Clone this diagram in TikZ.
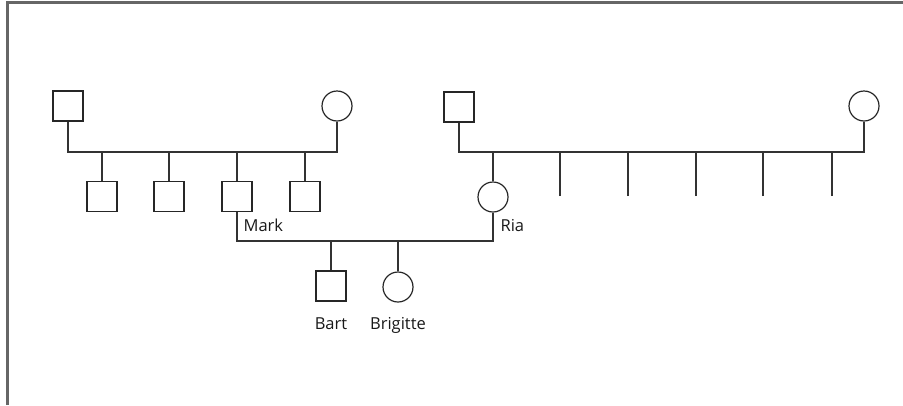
\documentclass[tikz,border=0pt]{standalone}
\usepackage{fontspec}
\setmainfont{Open Sans}
\begin{document}
\begin{tikzpicture}[x=1pt,y=-1pt,
  line width=1.2pt, draw=black!80,
  border/.style={draw=black!60,line width=2.2pt},
  male/.style={draw=black!85,rectangle,minimum size=30pt,inner sep=0pt,line width=1.2pt},
  female/.style={draw=black!85,circle,minimum size=30pt,inner sep=0pt,line width=1.2pt},
  lbl/.style={font=\fontsize{16.5}{19}\selectfont,text=black!90,inner sep=0pt}]
\useasboundingbox (0,0) rectangle (903,405);
\draw[border] (7.5,405) -- (7.5,2.5) -- (903,2.5);
% grandparents left
\node[male] (gf1) at (68,106) {};
\node[female] (gm1) at (337,106) {};
\coordinate (ja) at (68,152);
\node[male] (c1) at (102,196.5) {};
\node[male] (c2) at (169,196.5) {};
\node[male] (mark) at (237,196.5) {};
\node[male] (c4) at (305,196.5) {};
% grandparents right
\node[male] (gf2) at (459,107) {};
\node[female] (gm2) at (864,106) {};
\coordinate (jb) at (459,152);
\node[female] (ria) at (493,197) {};
\coordinate (u1) at (560,196);
\coordinate (u2) at (628,196);
\coordinate (u3) at (696,196);
\coordinate (u4) at (763,196);
\coordinate (u5) at (832,196);
% marriage
\coordinate (jm) at (237,241);
\node[male] (bart) at (331,286) {};
\node[female] (brigitte) at (398,287) {};
% lines
\draw (gf1.south) -- (ja) -- (gm1.south |- ja) -- (gm1.south);
\foreach \c in {c1,c2,mark,c4} \draw (\c.north) -- (\c.north |- ja);
\draw (gf2.south) -- (jb) -- (gm2.south |- jb) -- (gm2.south);
\draw (ria.north) -- (ria.north |- jb);
\foreach \u in {u1,u2,u3,u4,u5} \draw (\u) -- (\u |- jb);
\draw (mark.south) -- (jm) -- (ria.south |- jm) -- (ria.south);
\draw (bart.north) -- (bart.north |- jm);
\draw (brigitte.north) -- (brigitte.north |- jm);
% labels
\node[lbl,anchor=base west] (lmark) at (243,231) {Mark};
\node[lbl,anchor=base west] (lria) at (500,231) {Ria};
\node[lbl,anchor=base] (lbart) at (331,329) {Bart};
\node[lbl,anchor=base] (lbrig) at (398,329) {Brigitte};
\end{tikzpicture}
\end{document}
